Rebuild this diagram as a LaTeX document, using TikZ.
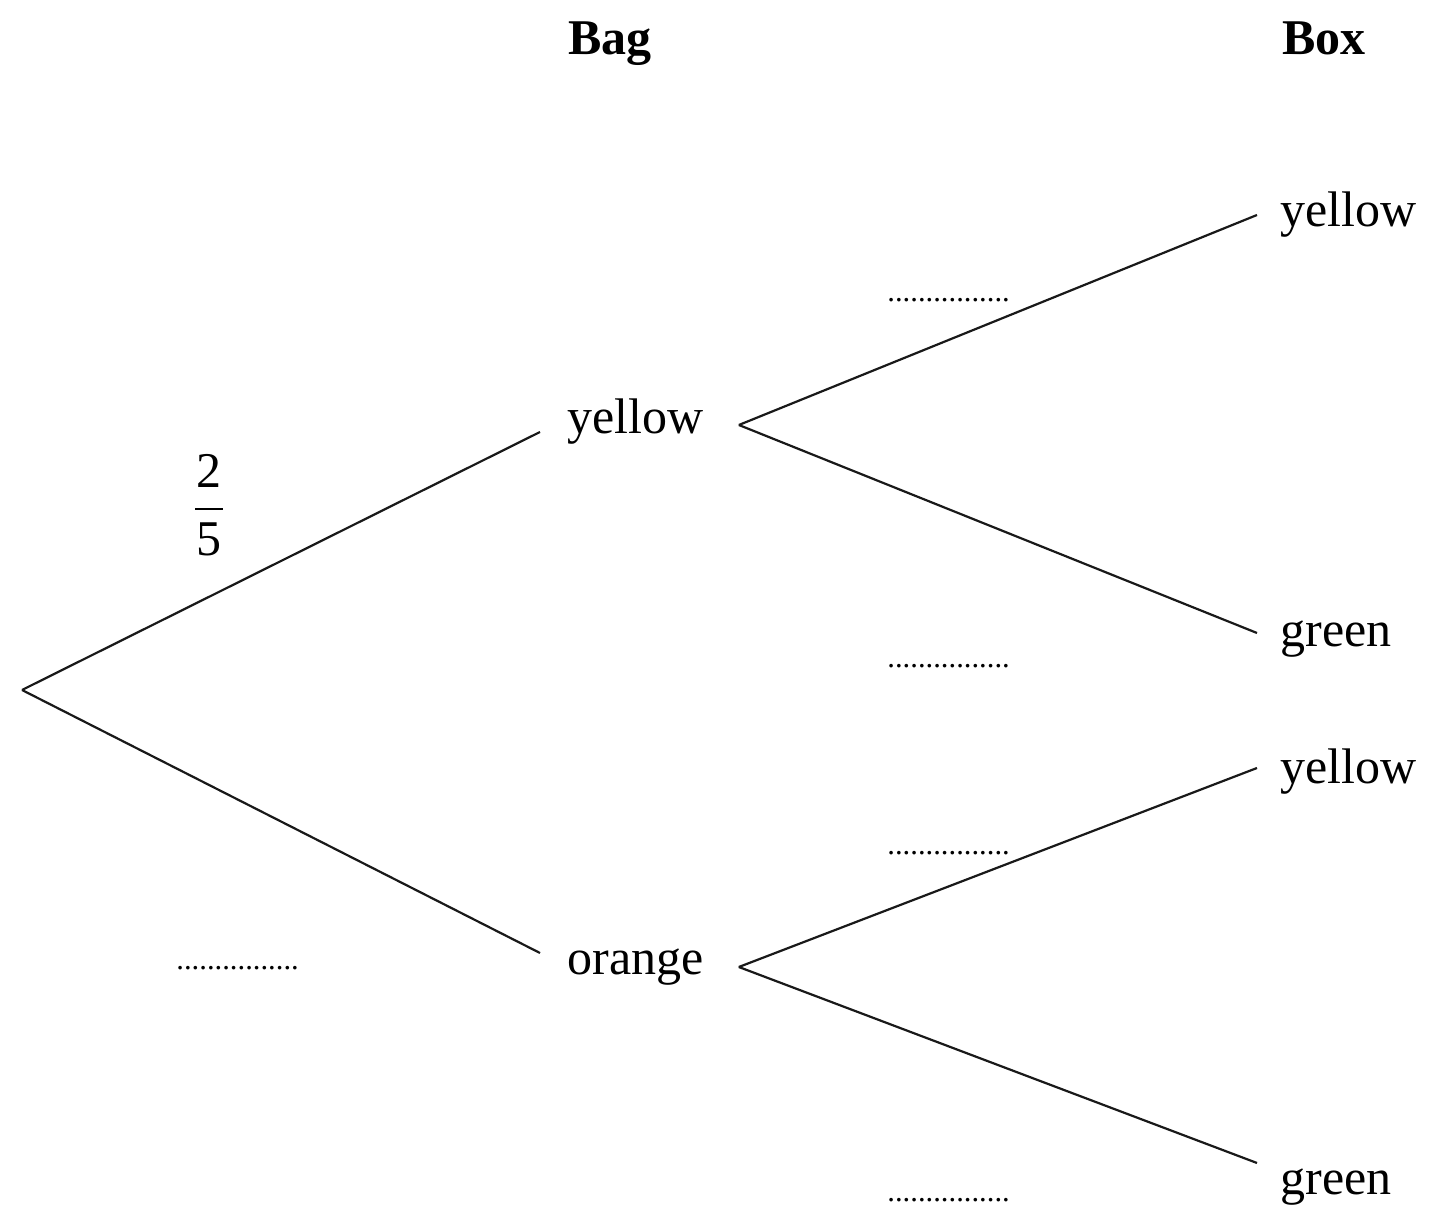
\documentclass[tikz,border=0pt]{standalone}
\usepackage{fontspec}
\setmainfont{Liberation Serif}
\usetikzlibrary{calc,positioning}
\tikzset{
    % Define style for tree branches
    branch/.style={
           line width=1.1pt,
           draw=black!90},
    % Define style for outcome texts
    outcome/.style={
           anchor=base west,
           inner sep=0pt,
           font=\fontsize{25}{30}\selectfont}
}

\begin{document}
\begin{tikzpicture}[x=0.5pt,y=-0.5pt]
	\tikzstyle{head} = [outcome, font=\fontsize{25}{30}\selectfont\bfseries]
	\tikzstyle{blank} = [anchor=base west, inner sep=0pt, font=\fontsize{15.3}{18}\selectfont]
	\useasboundingbox (0,0) rectangle (1432,1218);

	% Headings
	\node[head](bag) at (568,55){Bag};
	\node[head](box) at (1282,55){Box};

	% Bag stage
	\coordinate (start) at (22,690);
	\node[outcome](bag-y) at (567,434){yellow};
	\node[outcome](bag-o) at (567,975){orange};
	\node[inner sep=0pt, font=\fontsize{25}{30}\selectfont](p-bag-y) at (209,505){$\displaystyle{\makebox[13.6pt]{2}\above 1pt\makebox[13.6pt]{5}}$};
	\node[blank](p-bag-o) at (176,970){................};

	\draw[branch] (start) -- ($(bag-y.base west)+(-27,-2)$);
	\draw[branch] (start) -- ($(bag-o.base west)+(-27,-22)$);

	% Box stage
	\node[outcome](box-yy) at (1280,227){yellow};
	\node[outcome](box-yg) at (1280,647){green};
	\node[outcome](box-oy) at (1280,784){yellow};
	\node[outcome](box-og) at (1280,1195){green};

	\node[blank](p-yy) at (887,302){................};
	\node[blank](p-yg) at (887,668){................};
	\node[blank](p-oy) at (887,855){................};
	\node[blank](p-og) at (887,1202){................};

	\draw[branch] ($(bag-y.base east)+(35,-9)$) -- ($(box-yy.base west)+(-23,-12)$);
	\draw[branch] ($(bag-y.base east)+(35,-9)$) -- ($(box-yg.base west)+(-23,-14)$);
	\draw[branch] ($(bag-o.base east)+(35,-8)$) -- ($(box-oy.base west)+(-23,-16)$);
	\draw[branch] ($(bag-o.base east)+(35,-8)$) -- ($(box-og.base west)+(-23,-32)$);

\end{tikzpicture}
\end{document}
